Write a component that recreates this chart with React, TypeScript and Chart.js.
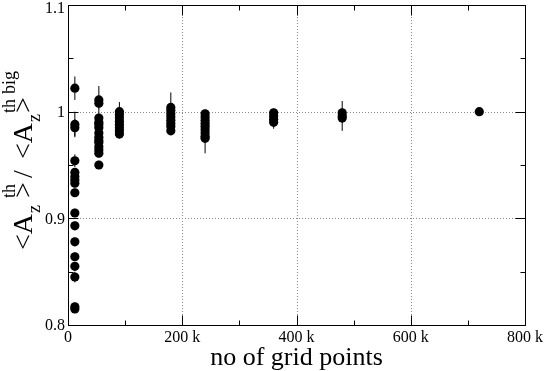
import { useEffect, useRef } from 'react';
import { Chart, registerables } from 'chart.js';

Chart.register(...registerables);

// ---- data ----
const gridPoints = [12000, 54000, 90000, 180000, 240000, 360000, 480000, 720000];

const ratios12k = [1.022, 0.988, 0.985, 0.954, 0.943, 0.939, 0.936, 0.933, 0.924, 0.905, 0.893, 0.878, 0.864, 0.855, 0.845, 0.817, 0.815];
const errors12k = [0.011, 0.012, 0.008, 0.006, 0.004, 0.004, 0.004, 0.004, 0.004, 0.004, 0.004, 0.004, 0.004, 0.004, 0.005, 0.004, 0.004];

const ratios54k = [1.011, 1.008, 0.994, 0.990, 0.988, 0.985, 0.980, 0.976, 0.973, 0.971, 0.967, 0.964, 0.961, 0.950];
const errors54k = [0.013, 0.005, 0.004, 0.004, 0.004, 0.004, 0.004, 0.004, 0.004, 0.004, 0.004, 0.004, 0.004, 0.004];

const ratios90k = [1.000, 0.997, 0.994, 0.991, 0.988, 0.985, 0.982, 0.979];
const errors90k = [0.009, 0.004, 0.004, 0.004, 0.004, 0.004, 0.004, 0.004];

const ratios180k = [1.004, 1.001, 0.998, 0.995, 0.992, 0.989, 0.986, 0.982];
const errors180k = [0.014, 0.004, 0.004, 0.004, 0.004, 0.004, 0.004, 0.004];

const ratios240k = [0.998, 0.995, 0.992, 0.989, 0.986, 0.983, 0.980, 0.977, 0.975];
const errors240k = [0.004, 0.004, 0.004, 0.004, 0.004, 0.004, 0.004, 0.004, 0.014];

const ratios360k = [0.999, 0.996, 0.993, 0.990];
const errors360k = [0.004, 0.004, 0.004, 0.006];

const ratios480k = [0.999, 0.996, 0.994];
const errors480k = [0.004, 0.014, 0.004];

const ratios720k = [1.000];
const errors720k = [0.002];

const ratioGroups = [ratios12k, ratios54k, ratios90k, ratios180k, ratios240k, ratios360k, ratios480k, ratios720k];
const errorGroups = [errors12k, errors54k, errors90k, errors180k, errors240k, errors360k, errors480k, errors720k];

const xTickValues = [0, 200000, 400000, 600000, 800000];
const xTickLabels = ['0', '200 k', '400 k', '600 k', '800 k'];
const xMinorTicks = [100000, 300000, 500000, 700000];
const yTickValues = [0.8, 0.9, 1.0, 1.1];
const yTickLabels = ['0.8', '0.9', '1', '1.1'];
const yMinorTicks = [0.85, 0.95, 1.05];

const xTitle = 'no of grid points';
// rotated y title fragments: text, font size, baseline shift, position along the text direction
const yTitleParts = [
  { t: '<A', size: 28, dy: 0, s: 0 },
  { t: 'z', size: 18, dy: 8, s: 37 },
  { t: 'th', size: 18, dy: -17, s: 52 },
  { t: '>', size: 28, dy: 0, s: 52 },
  { t: '/', size: 28, dy: 0, s: 72 },
  { t: '<A', size: 28, dy: 0, s: 91 },
  { t: 'z', size: 18, dy: 8, s: 128 },
  { t: 'th', size: 18, dy: -17, s: 137 },
  { t: '>', size: 28, dy: 0, s: 137 },
  { t: 'big', size: 18, dy: -17, s: 156 },
];

const FONT = '"Liberation Serif", "DejaVu Serif", serif';

const decorPlugin = {
  id: 'decor',
  beforeDatasetsDraw(chart: any) {
    const { ctx, chartArea: a, scales } = chart;
    const xs = scales.x;
    const ys = scales.y;
    ctx.save();
    // dotted grid
    ctx.strokeStyle = '#8a8a8a';
    ctx.lineWidth = 1;
    ctx.setLineDash([1, 2]);
    xTickValues.forEach((v) => {
      const px = Math.round(xs.getPixelForValue(v)) + 0.5;
      if (px <= a.left + 1 || px >= a.right - 1) return;
      ctx.beginPath();
      ctx.moveTo(px, a.top);
      ctx.lineTo(px, a.bottom);
      ctx.stroke();
    });
    yTickValues.forEach((v) => {
      const py = Math.round(ys.getPixelForValue(v)) + 0.5;
      if (py <= a.top + 1 || py >= a.bottom - 1) return;
      ctx.beginPath();
      ctx.moveTo(a.left, py);
      ctx.lineTo(a.right, py);
      ctx.stroke();
    });
    ctx.setLineDash([]);
    // error bars
    ctx.strokeStyle = '#000';
    ctx.lineWidth = 1;
    const meta = chart.getDatasetMeta(0);
    const data = chart.data.datasets[0].data;
    meta.data.forEach((el: any, i: number) => {
      const d = data[i];
      const px = el.x;
      ctx.beginPath();
      ctx.moveTo(px, ys.getPixelForValue(d.y + d.err));
      ctx.lineTo(px, ys.getPixelForValue(d.y - d.err));
      ctx.stroke();
    });
    ctx.restore();
  },
  afterDatasetsDraw(chart: any) {
    const { ctx, chartArea: a, scales } = chart;
    const xs = scales.x;
    const ys = scales.y;
    ctx.save();
    ctx.strokeStyle = '#000';
    ctx.lineWidth = 1;
    const L = Math.round(a.left) + 0.5;
    const R = Math.round(a.right) + 0.5;
    const T = Math.round(a.top) + 0.5;
    const B = Math.round(a.bottom) + 0.5;
    ctx.strokeRect(L, T, R - L, B - T);
    // ticks (inward, all sides)
    const tick = (vals: number[], len: number) => {
      vals.forEach((v) => {
        const px = Math.round(xs.getPixelForValue(v)) + 0.5;
        ctx.beginPath();
        ctx.moveTo(px, B);
        ctx.lineTo(px, B - len);
        ctx.moveTo(px, T);
        ctx.lineTo(px, T + len);
        ctx.stroke();
      });
    };
    const ytick = (vals: number[], len: number) => {
      vals.forEach((v) => {
        const py = Math.round(ys.getPixelForValue(v)) + 0.5;
        ctx.beginPath();
        ctx.moveTo(L, py);
        ctx.lineTo(L + len, py);
        ctx.moveTo(R, py);
        ctx.lineTo(R - len, py);
        ctx.stroke();
      });
    };
    tick(xMinorTicks, 5);
    tick(xTickValues, 10);
    ytick(yMinorTicks, 5);
    ytick(yTickValues, 10);

    // tick labels
    ctx.fillStyle = '#000';
    ctx.font = '16px ' + FONT;
    ctx.textAlign = 'center';
    ctx.textBaseline = 'alphabetic';
    xTickValues.forEach((v, i) => {
      ctx.fillText(xTickLabels[i], xs.getPixelForValue(v), 342);
    });
    ctx.textAlign = 'right';
    ctx.textBaseline = 'middle';
    yTickValues.forEach((v, i) => {
      const py = Math.max(ys.getPixelForValue(v) + 1, 9);
      ctx.fillText(yTickLabels[i], 65, py);
    });

    // x title
    ctx.font = '26px ' + FONT;
    ctx.textAlign = 'center';
    ctx.textBaseline = 'alphabetic';
    ctx.fillText(xTitle, (a.left + a.right) / 2, 365);

    // y title (rotated)
    ctx.translate(32, 250);
    ctx.rotate(-Math.PI / 2);
    ctx.textAlign = 'left';
    yTitleParts.forEach((p) => {
      ctx.font = p.size + 'px ' + FONT;
      ctx.fillText(p.t, p.s, p.dy);
    });
    ctx.restore();
  },
};

export default function App() {
  const ref = useRef<HTMLCanvasElement | null>(null);
  useEffect(() => {
    if (!ref.current) return;
    const points = gridPoints.flatMap((x, i) =>
      ratioGroups[i].map((y, j) => ({ x, y, err: errorGroups[i][j] }))
    );
    const chart = new Chart(ref.current, {
      type: 'scatter',
      data: {
        datasets: [
          {
            data: points as any,
            pointRadius: 4.6,
            pointHoverRadius: 4.6,
            backgroundColor: '#000',
            borderColor: '#000',
            borderWidth: 0,
          },
        ],
      },
      options: {
        animation: false,
        responsive: false,
        devicePixelRatio: 1,
        events: [],
        layout: { padding: { left: 68, top: 5, right: 20, bottom: 46 } },
        plugins: { legend: { display: false }, tooltip: { enabled: false } },
        scales: {
          x: { type: 'linear', min: 0, max: 800000, display: false },
          y: { type: 'linear', min: 0.8, max: 1.1, display: false },
        },
      },
      plugins: [decorPlugin],
    });
    return () => chart.destroy();
  }, []);
  return (
    <div style={{ position: 'fixed', left: 0, top: 0, width: 545, height: 371, background: '#fff' }}>
      <canvas ref={ref} width={545} height={371} />
    </div>
  );
}
